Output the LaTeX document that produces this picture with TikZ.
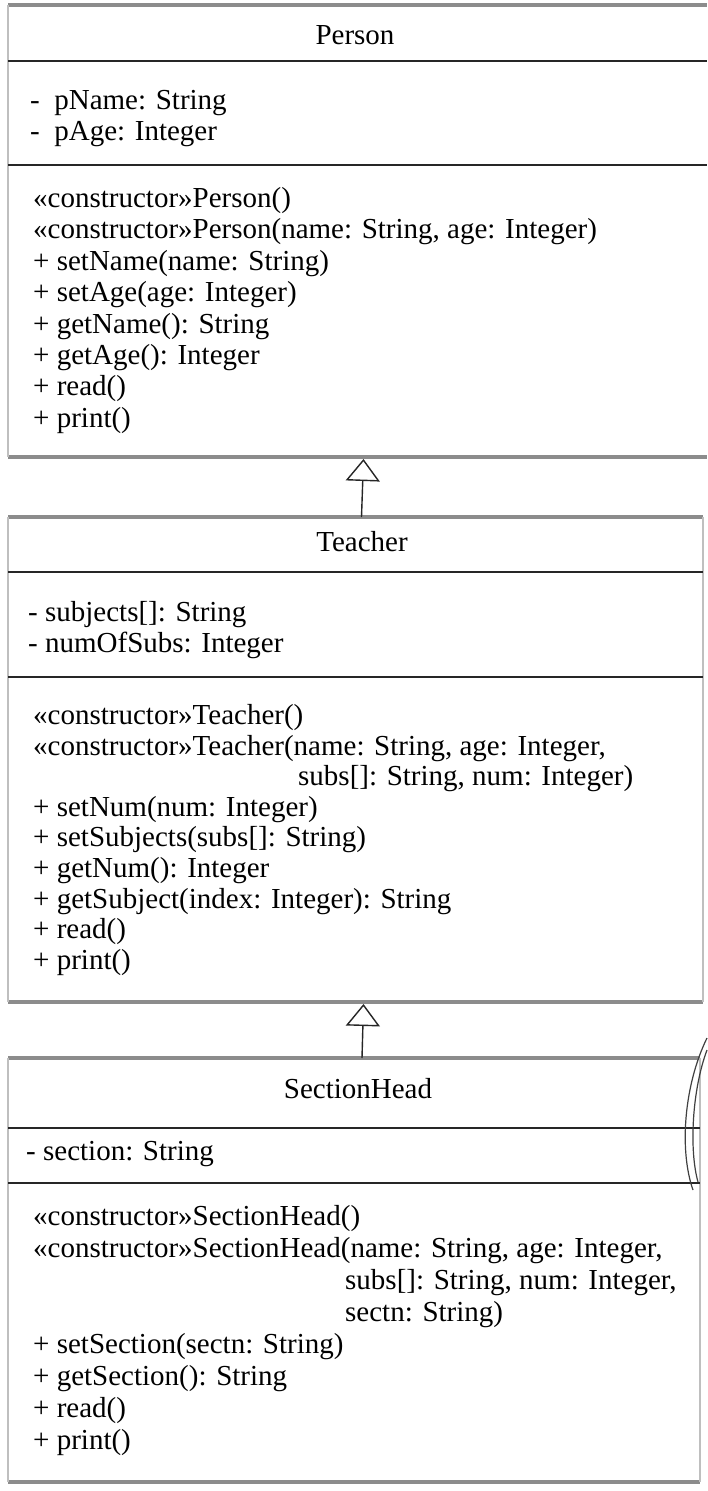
\documentclass[tikz,border=0pt]{standalone}
\usepackage{fontspec}
\setmainfont{Liberation Serif}
\usetikzlibrary{arrows.meta}
\begin{document}
\begin{tikzpicture}[x=1pt,y=-1pt,
  txt/.style={anchor=west, inner sep=0pt, text height=20pt, text depth=7pt, font=\fontsize{29}{31}\selectfont},
  ttl/.style={anchor=center, inner sep=0pt, text height=20pt, text depth=7pt, font=\fontsize{29}{31}\selectfont},
  classbox/.style={inner sep=0pt, outer sep=0pt, anchor=north west},
  edgeTB/.style={draw=black!45, line width=4pt},
  edgeLR/.style={draw=black!25, line width=2.5pt},
  sepline/.style={draw=black!85, line width=1.6pt},
  inherit/.style={draw=black!85, line width=1.4pt, -{Triangle[open, length=22pt, width=34pt]}},
  scanmark/.style={draw=black!75, line width=1.2pt}
]
\fill[white] (0,0) rectangle (707,1491);
\useasboundingbox (0,0) rectangle (707,1491);

% ---------- Person ----------
\node[classbox, minimum width=699pt, minimum height=452pt] (person) at (8,5) {};
\draw[edgeTB] (person.north west) -- (person.north east);
\draw[edgeTB] (person.south west) -- (person.south east);
\draw[edgeLR] (person.north west) -- (person.south west);
\draw[sepline] (8,61) -- (707,61);
\draw[sepline] (8,165) -- (707,165);
\node[ttl] (pt) at (355,38) {Person};
\node[txt] (pa1) at (30,103) {-\ \ pName: String};
\node[txt] (pa2) at (30,134) {-\ \ pAge: Integer};
\node[txt] (pm1) at (33,201) {«constructor»Person()};
\node[txt] (pm2) at (33,232.4) {«constructor»Person(name: String, age: Integer)};
\node[txt] (pm3) at (33,263.8) {+ setName(name: String)};
\node[txt] (pm4) at (33,295.2) {+ setAge(age: Integer)};
\node[txt] (pm5) at (33,326.6) {+ getName(): String};
\node[txt] (pm6) at (33,358) {+ getAge(): Integer};
\node[txt] (pm7) at (33,389.4) {+ read()};
\node[txt] (pm8) at (33,420.8) {+ print()};

% ---------- Teacher ----------
\node[classbox, minimum width=695pt, minimum height=485pt] (teacher) at (8,517) {};
\draw[edgeTB] (teacher.north west) -- (teacher.north east);
\draw[edgeTB] (teacher.south west) -- (teacher.south east);
\draw[edgeLR] (teacher.north west) -- (teacher.south west);
\draw[edgeLR] (teacher.north east) -- (teacher.south east);
\draw[sepline] (8,572) -- (703,572);
\draw[sepline] (8,677) -- (703,677);
\node[ttl] (tt) at (362,545) {Teacher};
\node[txt] (ta1) at (28,615) {- subjects[]: String};
\node[txt] (ta2) at (28,646) {- numOfSubs: Integer};
\node[txt] (tm1) at (33,718) {«constructor»Teacher()};
\node[txt] (tm2) at (33,748.6) {«constructor»Teacher(name: String, age: Integer,};
\node[txt] (tm3) at (298,779.2) {subs[]: String, num: Integer)};
\node[txt] (tm4) at (33,809.8) {+ setNum(num: Integer)};
\node[txt] (tm5) at (33,840.4) {+ setSubjects(subs[]: String)};
\node[txt] (tm6) at (33,871) {+ getNum(): Integer};
\node[txt] (tm7) at (33,901.6) {+ getSubject(index: Integer): String};
\node[txt] (tm8) at (33,932.2) {+ read()};
\node[txt] (tm9) at (33,962.8) {+ print()};

% ---------- SectionHead ----------
\node[classbox, minimum width=692pt, minimum height=424pt] (head) at (8,1058) {};
\draw[edgeTB] (head.north west) -- (head.north east);
\draw[edgeTB] (head.south west) -- (head.south east);
\draw[edgeLR] (head.north west) -- (head.south west);
\draw[edgeLR] (head.north east) -- (head.south east);
\draw[sepline] (8,1128) -- (700,1128);
\draw[sepline] (8,1183) -- (700,1183);
\node[ttl] (ht) at (358,1092) {SectionHead};
\node[txt] (ha1) at (26,1154) {- section: String};
\node[txt] (hm1) at (33,1219) {«constructor»SectionHead()};
\node[txt] (hm2) at (33,1251) {«constructor»SectionHead(name: String, age: Integer,};
\node[txt] (hm3) at (345,1283) {subs[]: String, num: Integer,};
\node[txt] (hm4) at (345,1315) {sectn: String)};
\node[txt] (hm5) at (33,1347) {+ setSection(sectn: String)};
\node[txt] (hm6) at (33,1379) {+ getSection(): String};
\node[txt] (hm7) at (33,1411) {+ read()};
\node[txt] (hm8) at (33,1443) {+ print()};

% ---------- inheritance ----------
\draw[inherit] ([xshift=6pt]teacher.north) -- ([xshift=6pt,yshift=-2pt]person.south);
\draw[inherit] ([xshift=8pt]head.north) -- ([xshift=8pt,yshift=-2pt]teacher.south);

% ---------- scan marks at right edge ----------
\draw[scanmark] (707,1038) .. controls (684,1085) and (679,1150) .. (693,1190);
\draw[scanmark] (707,1050) .. controls (692,1090) and (689,1150) .. (698,1182);
\end{tikzpicture}
\end{document}
